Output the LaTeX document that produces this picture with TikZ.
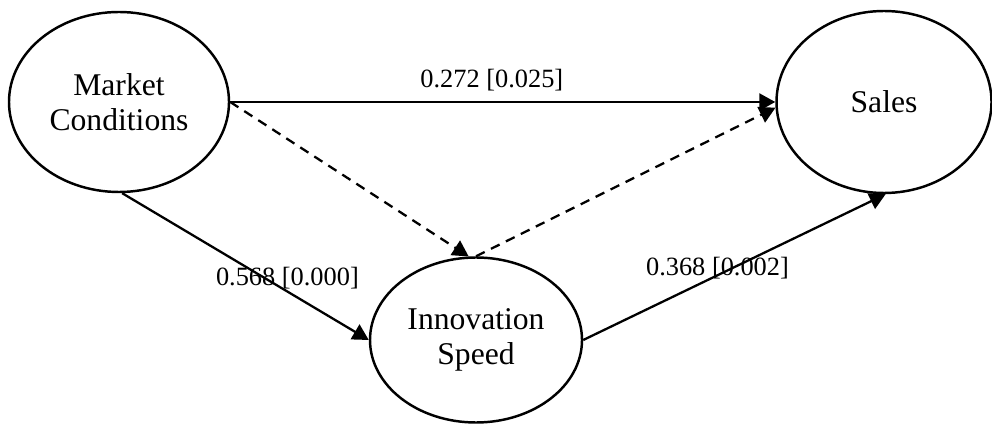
\documentclass[tikz,border=0pt]{standalone}
\usepackage{fontspec}
\setmainfont{Liberation Serif}
\usetikzlibrary{shapes.geometric,arrows.meta,positioning}
\tikzset{latent/.style={draw,ellipse,line width=1.4pt,inner sep=0pt,minimum width=4.4cm,minimum height=3.6cm,align=center,font=\fontsize{18}{20}\selectfont}}
\tikzset{effect/.style={draw,line width=1.3pt,-{Triangle[length=0.32cm,width=0.34cm]}}}
\tikzset{indirect/.style={effect,dash pattern=on 5.5pt off 4pt}}
\tikzset{coef/.style={inner sep=0pt,font=\fontsize{15}{17}\selectfont}}

\begin{document}
\begin{tikzpicture}[node distance=15.3cm,on grid]
    \useasboundingbox (0,0) rectangle (19.84,8.46);
    \node[latent] (mkt) at (2.38,6.42) {Market\\Conditions};
    \node[latent,right=of mkt,minimum width=4.3cm,minimum height=3.64cm] (sales) {Sales};
    \node[latent,below right=4.76cm and 7.14cm of mkt,minimum width=4.24cm,minimum height=3.3cm] (innov) {Innovation\\Speed};

        \path[effect] (mkt.east) -- (sales.west)
            node[coef,pos=0.48,yshift=0.44cm] (c1) {0.272 [0.025]};
        \path[effect] (mkt.-88) -- (innov.west)
            node[coef,pos=0.67,yshift=0.26cm] (c2) {0.568 [0.000]};
        \path[effect] (innov.east) -- (sales.-89)
            node[coef,pos=0.444,yshift=0.14cm] (c3) {0.368 [0.002]};
        \path[indirect] (mkt.east) -- (innov.95);
        \path[indirect] (innov.90) -- (sales.183);
\end{tikzpicture}
\end{document}
